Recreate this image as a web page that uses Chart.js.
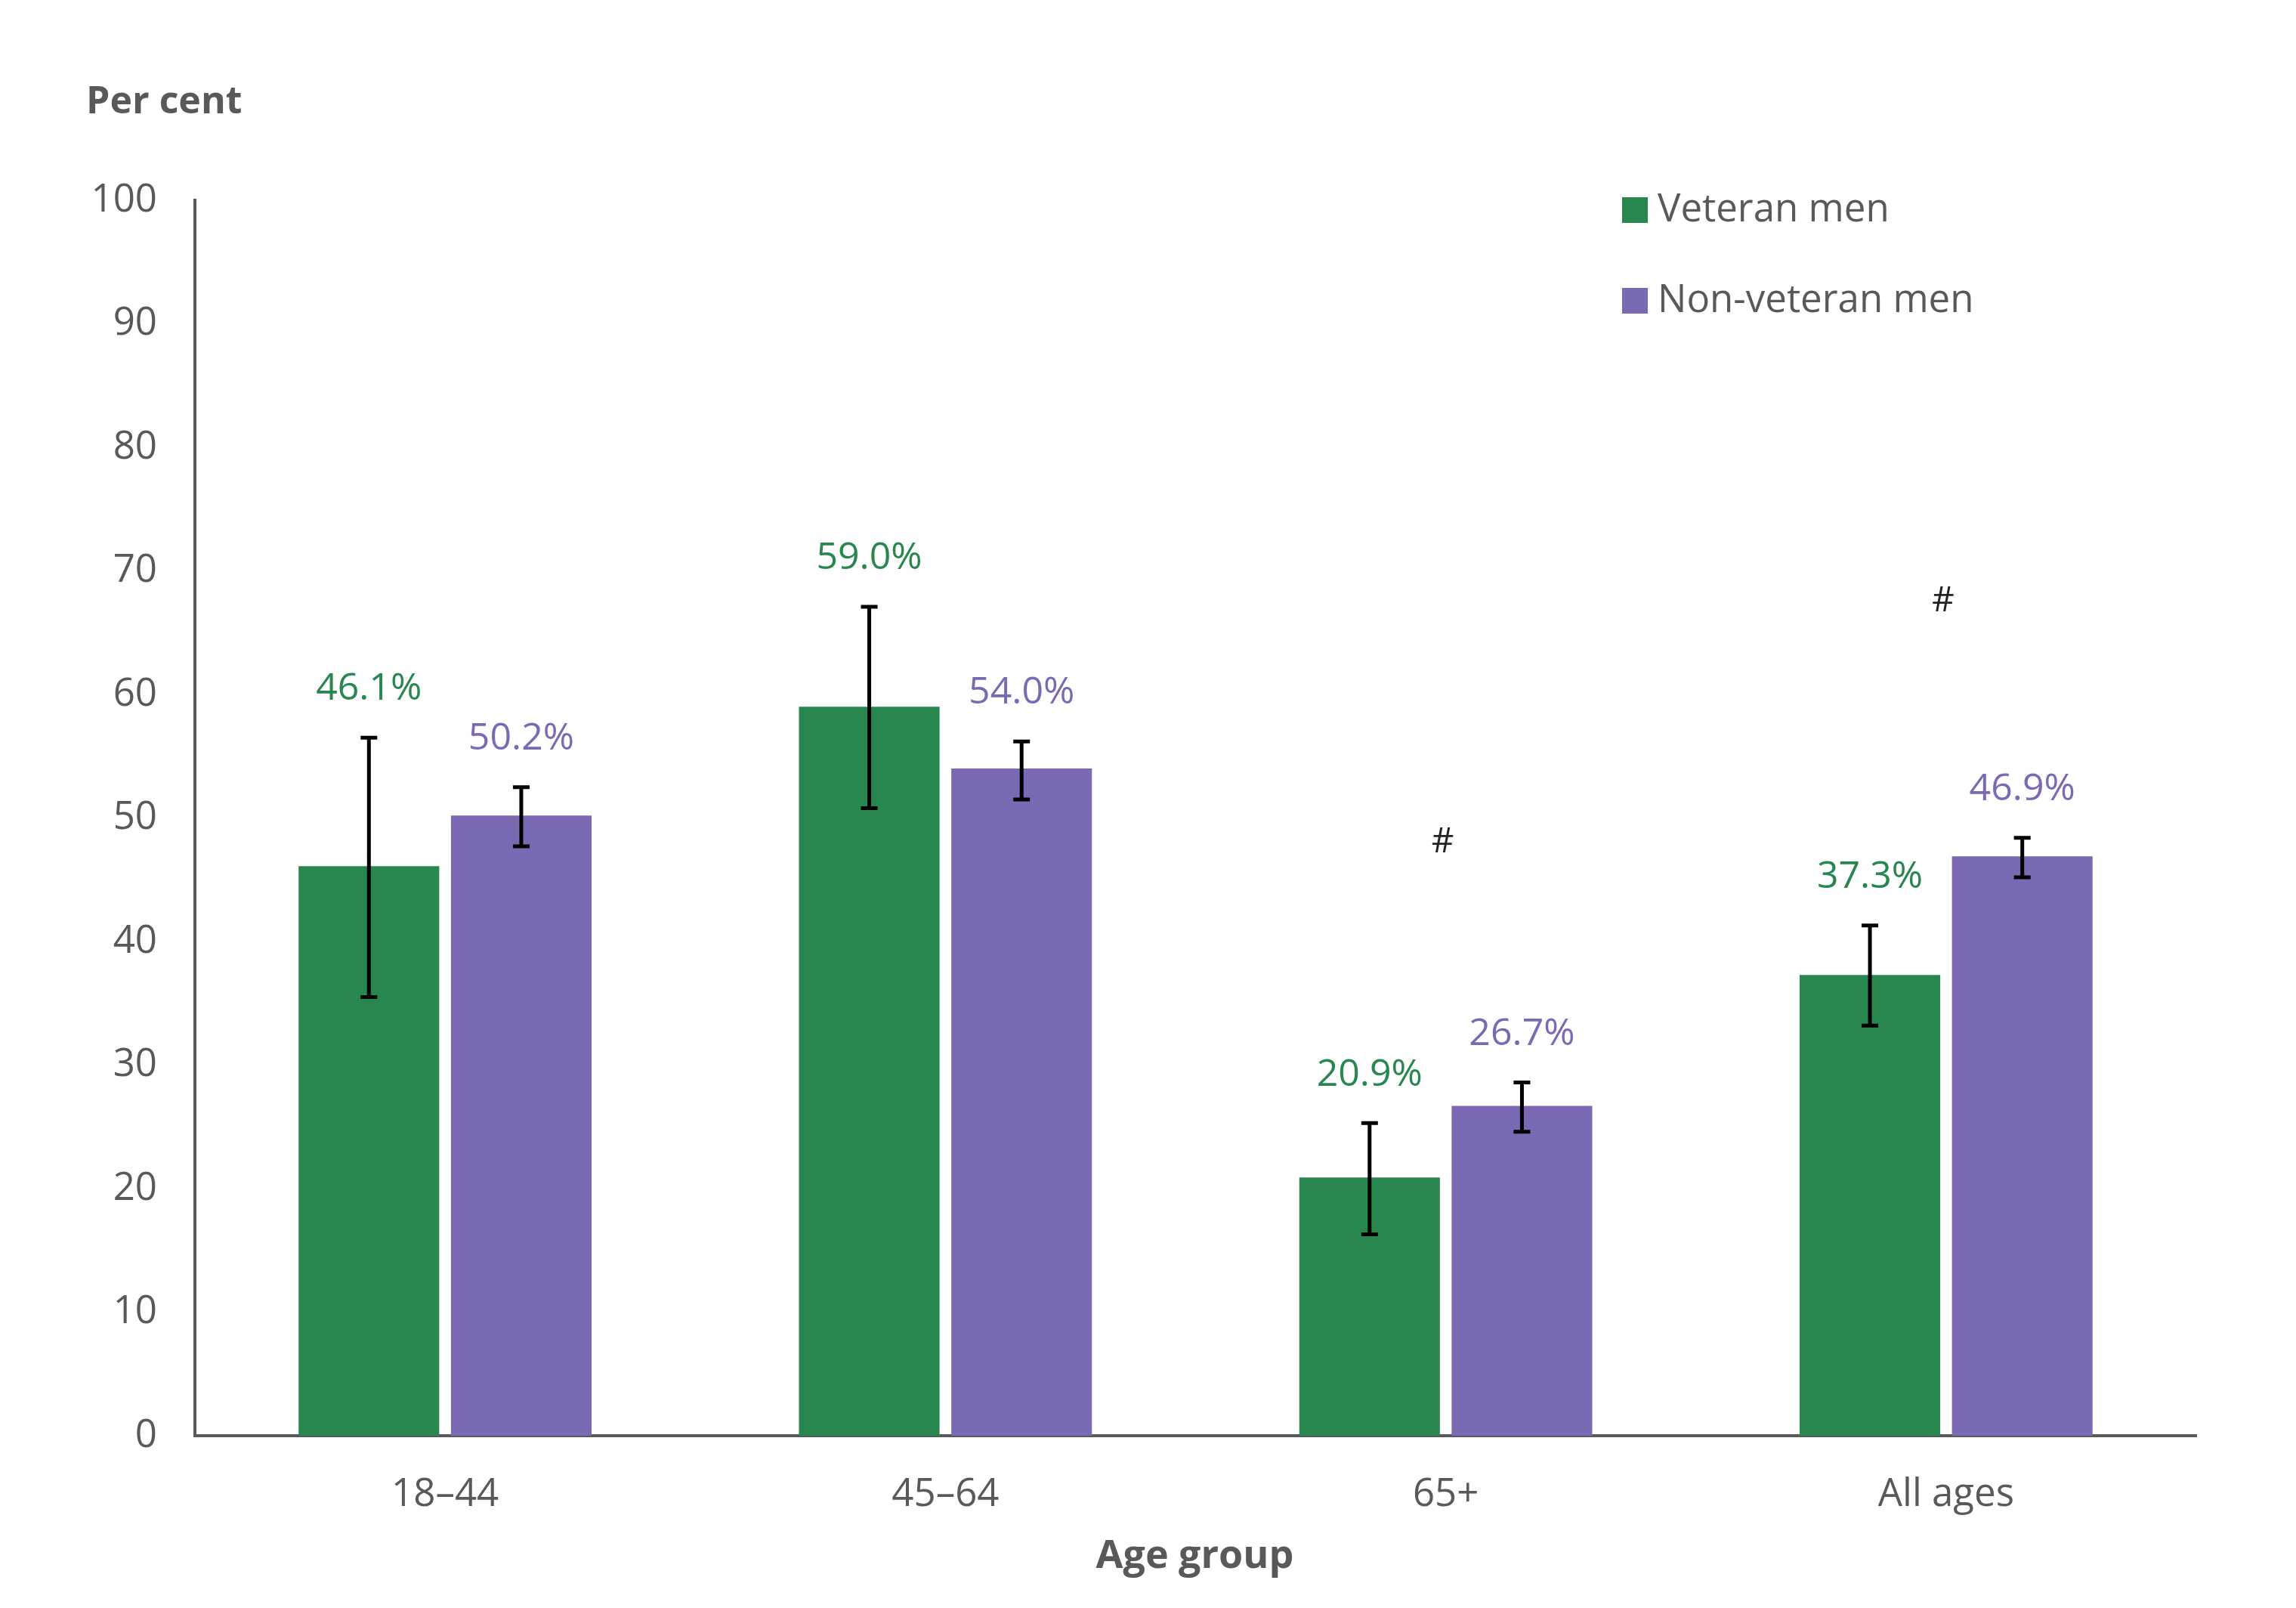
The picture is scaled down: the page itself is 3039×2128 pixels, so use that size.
<!DOCTYPE html>
<html>
<head>
<meta charset="utf-8">
<script src="https://cdn.jsdelivr.net/npm/chart.js@4"></script>
<style>
  html, body { margin: 0; padding: 0; background: #ffffff; }
  #wrap { width: 3039px; height: 2128px; position: relative; }
</style>
</head>
<body>
<div id="wrap"><canvas id="grafica"></canvas></div>
<script>
// Datos
const categorias = ['18–44', '45–64', '65+', 'All ages'];
const veteranos = [46.1, 59.0, 20.9, 37.3];
const veteranosBajo = [35.5, 50.8, 16.3, 33.2];
const veteranosAlto = [56.5, 67.1, 25.3, 41.3];
const noVeteranos = [50.2, 54.0, 26.7, 46.9];
const noVeteranosBajo = [47.7, 51.5, 24.6, 45.2];
const noVeteranosAlto = [52.5, 56.2, 28.6, 48.4];
const marcasHash = [null, null, 48.0, 67.5];
const ticksY = [0, 10, 20, 30, 40, 50, 60, 70, 80, 90, 100];

const verde = '#27874F';
const morado = '#7B69B3';
const gris = '#595959';
const fuente = "'Open Sans', 'Noto Sans', sans-serif";

Chart.defaults.font.family = fuente;
Chart.defaults.color = gris;

const intervalos = [
    { bajo: veteranosBajo, alto: veteranosAlto },
    { bajo: noVeteranosBajo, alto: noVeteranosAlto }
];

// Barras de error + etiquetas de valor + marcas '#'
const pluginExtras = {
    id: 'extras',
    afterDatasetsDraw(chart) {
        const ctx = chart.ctx;
        const y = chart.scales.y;
        const x = chart.scales.x;

        chart.data.datasets.forEach((ds, d) => {
            const meta = chart.getDatasetMeta(d);
            meta.data.forEach((bar, i) => {
                const yHi = y.getPixelForValue(intervalos[d].alto[i]);
                const yLo = y.getPixelForValue(intervalos[d].bajo[i]);
                ctx.save();
                ctx.strokeStyle = '#000000';
                ctx.lineWidth = 5;
                ctx.beginPath();
                ctx.moveTo(bar.x, yHi);
                ctx.lineTo(bar.x, yLo);
                ctx.moveTo(bar.x - 11, yHi);
                ctx.lineTo(bar.x + 11, yHi);
                ctx.moveTo(bar.x - 11, yLo);
                ctx.lineTo(bar.x + 11, yLo);
                ctx.stroke();

                ctx.fillStyle = ds.backgroundColor;
                ctx.font = `50px ${fuente}`;
                ctx.textAlign = 'center';
                ctx.textBaseline = 'middle';
                ctx.fillText(ds.data[i].toFixed(1) + '%', bar.x, yHi - 64);
                ctx.restore();
            });
        });

        marcasHash.forEach((v, i) => {
            if (v === null) return;
            ctx.save();
            ctx.fillStyle = '#222222';
            ctx.font = `46px ${fuente}`;
            ctx.textAlign = 'center';
            ctx.textBaseline = 'middle';
            ctx.fillText('#', x.getPixelForValue(i) - 4, y.getPixelForValue(v));
            ctx.restore();
        });
    },
    afterDraw(chart) {
        const ctx = chart.ctx;
        const area = chart.chartArea;
        ctx.save();
        ctx.fillStyle = gris;
        ctx.font = `bold 50px ${fuente}`;
        ctx.textBaseline = 'middle';
        ctx.textAlign = 'left';
        ctx.fillText('Per cent', 114, 136);
        ctx.textAlign = 'center';
        ctx.font = `bold 52px ${fuente}`;
        ctx.fillText('Age group', (area.left + area.right) / 2 - 1, 2060);

        // Leyenda
        ctx.font = `51px ${fuente}`;
        ctx.textAlign = 'left';
        chart.data.datasets.forEach((ds, d) => {
            const cy = 278 + d * 120;
            ctx.fillStyle = ds.backgroundColor;
            ctx.fillRect(2147, cy - 17, 34, 34);
            ctx.fillStyle = gris;
            ctx.fillText(ds.label, 2194, cy);
        });
        ctx.restore();
    }
};

new Chart(document.getElementById('grafica'), {
    type: 'bar',
    data: {
        labels: categorias,
        datasets: [
            { label: 'Veteran men', data: veteranos, backgroundColor: verde },
            { label: 'Non-veteran men', data: noVeteranos, backgroundColor: morado }
        ]
    },
    options: {
        responsive: true,
        maintainAspectRatio: false,
        animation: false,
        datasets: {
            bar: { categoryPercentage: 0.609, barPercentage: 0.923 }
        },
        layout: { padding: { left: 0, right: 132, top: 265, bottom: 0 } },
        plugins: {
            legend: { display: false },
            tooltip: { enabled: false }
        },
        scales: {
            x: {
                grid: { display: false, drawTicks: false },
                border: { display: true, color: gris, width: 4 },
                ticks: { font: { size: 51 }, color: gris, padding: 48 },
                afterFit(scale) { scale.height = 228; }
            },
            y: {
                min: 0,
                max: 100,
                grid: { display: false, drawTicks: false },
                border: { display: true, color: gris, width: 4 },
                afterBuildTicks(scale) { scale.ticks = ticksY.map(v => ({ value: v })); },
                ticks: { font: { size: 51 }, color: gris, padding: 50 },
                afterFit(scale) { scale.width = 258; }
            }
        }
    },
    plugins: [pluginExtras]
});
</script>
</body>
</html>
